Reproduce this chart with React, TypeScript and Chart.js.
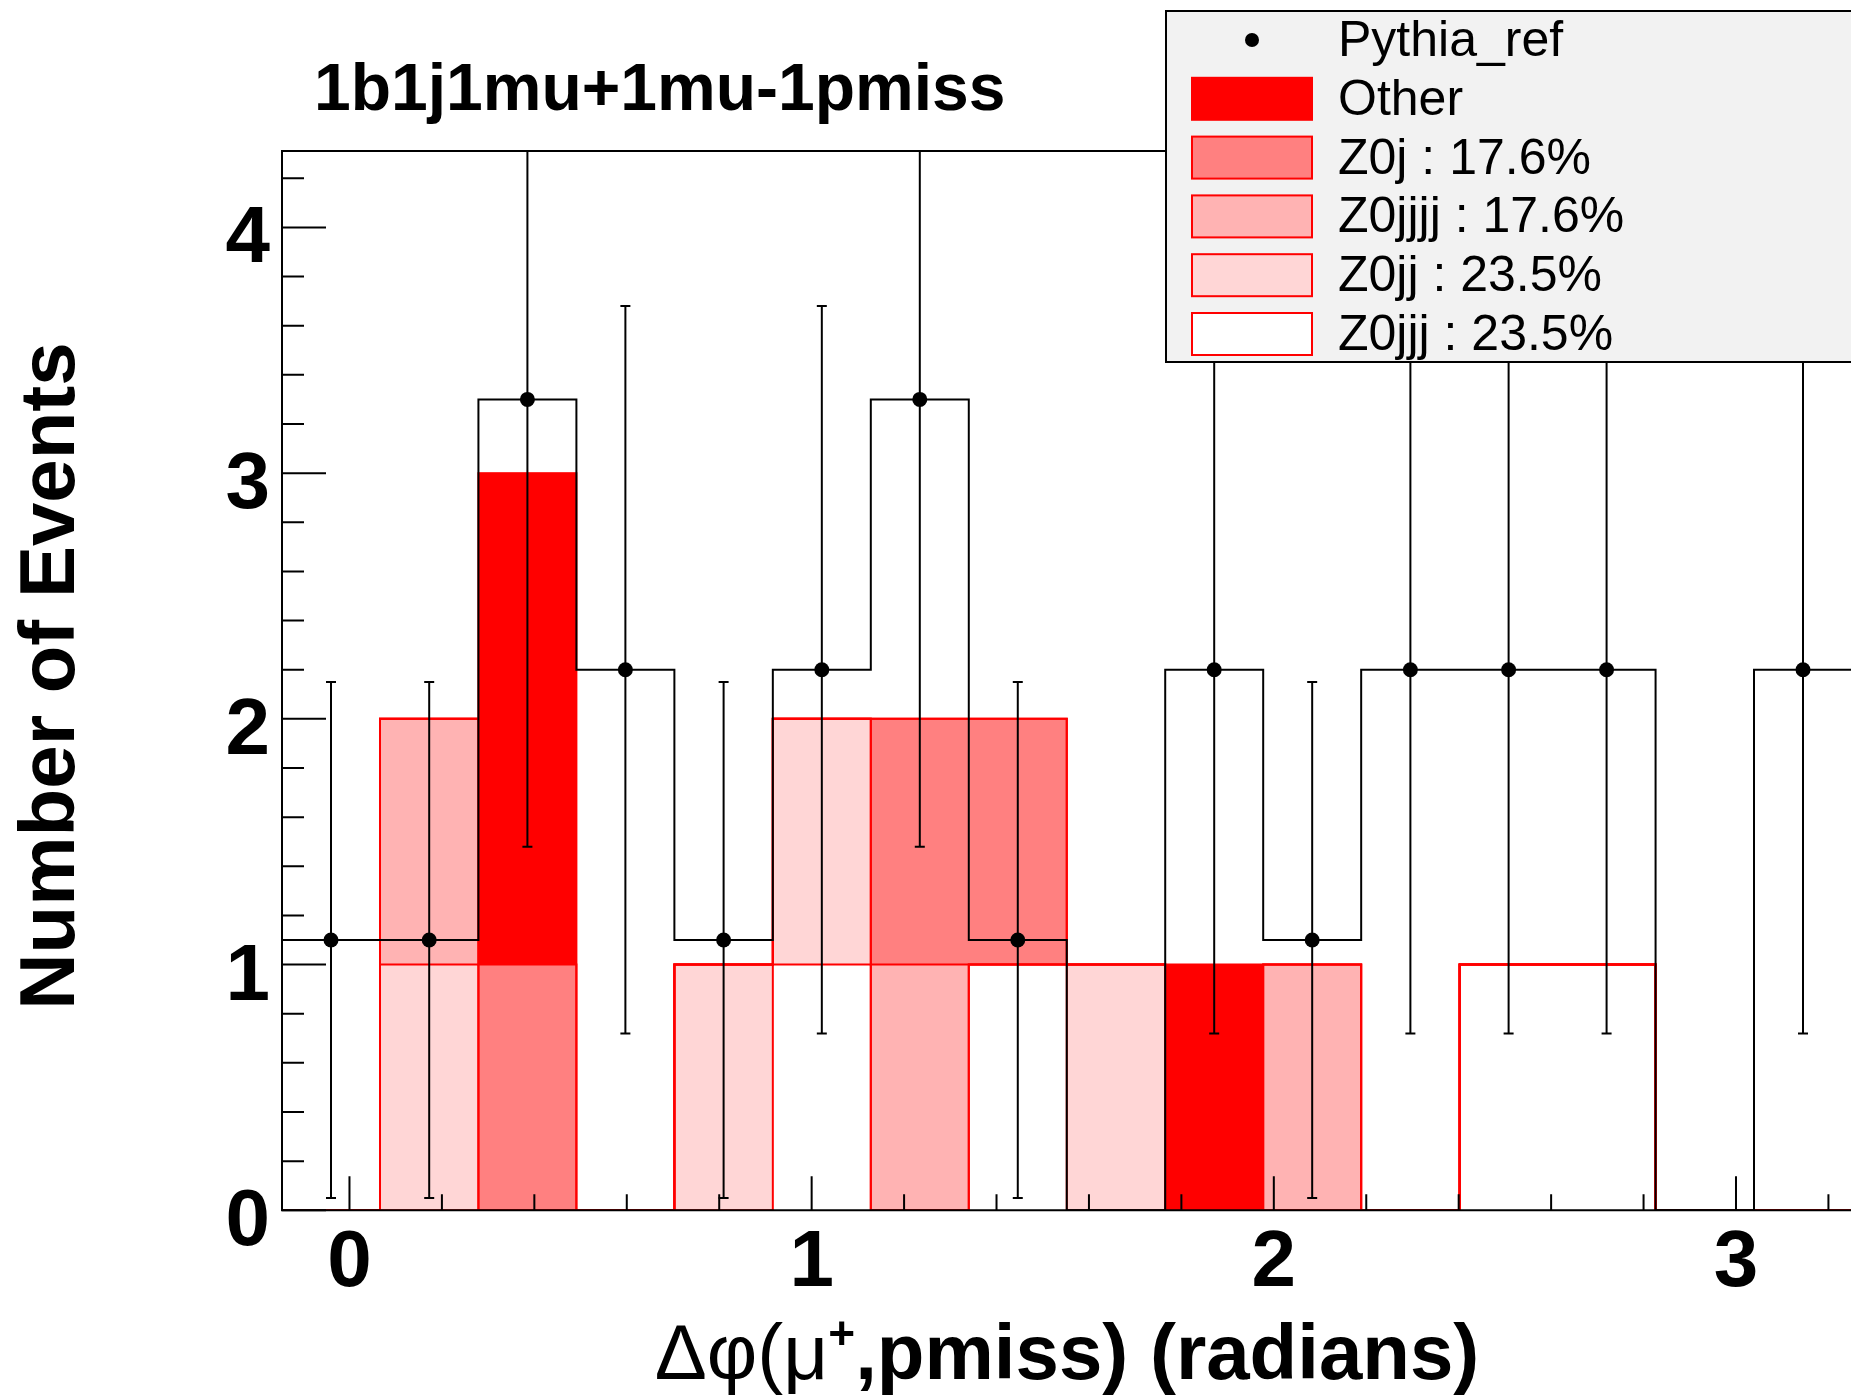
import React, { useEffect, useRef } from 'react';
import { Chart, registerables } from 'chart.js';

Chart.register(...registerables);

// ---------------- data ----------------
const binEdges = [-0.146, 0.066, 0.279, 0.491, 0.703, 0.916, 1.128, 1.34, 1.552, 1.765, 1.977, 2.189, 2.402, 2.614, 2.826, 3.039, 3.251];
const pythiaRef = [1.1, 1.1, 3.3, 2.2, 1.1, 2.2, 3.3, 1.1, 0, 2.2, 1.1, 2.2, 2.2, 2.2, 0, 2.2];
const pythiaErr = [1.05, 1.05, 1.82, 1.48, 1.05, 1.48, 1.82, 1.05, 0, 1.48, 1.05, 1.48, 1.48, 1.48, 0, 1.48];
// stack components, bottom to top
const z0jjj = [0, 0, 0, 0, 0, 1, 0, 1, 0, 0, 0, 0, 1, 1, 0, 0];
const z0jj = [0, 1, 0, 0, 1, 1, 0, 0, 1, 0, 0, 0, 0, 0, 0, 0];
const z0jjjj = [0, 1, 0, 0, 0, 0, 1, 0, 0, 0, 1, 0, 0, 0, 0, 0];
const z0j = [0, 0, 1, 0, 0, 0, 1, 1, 0, 0, 0, 0, 0, 0, 0, 0];
const other = [0, 0, 2, 0, 0, 0, 0, 0, 0, 1, 0, 0, 0, 0, 0, 0];

const stackNames = ['Z0jjj', 'Z0jj', 'Z0jjjj', 'Z0j', 'Other'];
const stackValues = [z0jjj, z0jj, z0jjjj, z0j, other];
const stackColors = ['#ffffff', '#ffd6d6', '#ffb3b3', '#ff8080', '#ff0000'];
const stackLegendLabels = ['Z0jjj : 23.5%', 'Z0jj : 23.5%', 'Z0jjjj : 17.6%', 'Z0j : 17.6%', 'Other'];
const refLabel = 'Pythia_ref';

const xTickValues = [0, 1, 2, 3];
const xTickLabels = ['0', '1', '2', '3'];
const yTickValues = [0, 1, 2, 3, 4];
const yTickLabels = ['0', '1', '2', '3', '4'];

const titleText = '1b1j1mu+1mu-1pmiss';
const yTitleText = 'Number of Events';
const xTitleParts = ['\u0394\u03c6(\u03bc', '+', ',pmiss) (radians)'];

const X_MIN = -0.146;
const X_MAX = 3.251;
const Y_MAX = 4.311;

// ---------------- styling ----------------
const FONT = '"Liberation Sans", Arial, Helvetica, sans-serif';
const RED = '#ff0000';

const centers = binEdges.slice(0, -1).map((e, i) => (e + binEdges[i + 1]) / 2);

function cumulative(k: number): number[] {
  return centers.map((_, i) => {
    let s = 0;
    for (let j = 0; j <= k; j++) s += stackValues[j][i];
    return s;
  });
}

function contourPoints(vals: number[]) {
  return binEdges.map((x, i) => ({ x, y: vals[Math.min(i, vals.length - 1)] }));
}

const rootPlugin = {
  id: 'rootDecor',
  beforeDatasetDraw(chart: any, args: any) {
    const ds = chart.data.datasets[args.index];
    if (ds.label !== refLabel) return;
    const ctx = chart.ctx;
    const xs = chart.scales.x;
    const ys = chart.scales.y;
    const area = chart.chartArea;
    ctx.save();
    ctx.beginPath();
    ctx.rect(area.left, area.top, area.right - area.left, area.bottom - area.top);
    ctx.clip();
    ctx.strokeStyle = '#000';
    ctx.lineWidth = 2;
    pythiaRef.forEach((v, i) => {
      if (v <= 0) return;
      const px = xs.getPixelForValue(centers[i]);
      const lo = ys.getPixelForValue(v - pythiaErr[i]);
      const hi = ys.getPixelForValue(v + pythiaErr[i]);
      ctx.beginPath();
      ctx.moveTo(px, lo);
      ctx.lineTo(px, hi);
      ctx.moveTo(px - 5, lo);
      ctx.lineTo(px + 5, lo);
      ctx.moveTo(px - 5, hi);
      ctx.lineTo(px + 5, hi);
      ctx.stroke();
    });
    ctx.restore();
  },
  afterDatasetsDraw(chart: any) {
    const ctx = chart.ctx;
    const xs = chart.scales.x;
    const ys = chart.scales.y;
    const a = chart.chartArea;
    ctx.save();
    ctx.strokeStyle = '#000';
    ctx.lineWidth = 2;
    // frame
    ctx.beginPath();
    ctx.moveTo(a.right + 2, a.top);
    ctx.lineTo(a.left, a.top);
    ctx.lineTo(a.left, a.bottom);
    ctx.lineTo(a.right + 2, a.bottom);
    ctx.stroke();
    // y ticks
    ctx.beginPath();
    for (let k = 0; k <= 21; k++) {
      const v = k * 0.2;
      if (v > Y_MAX) break;
      const py = ys.getPixelForValue(v);
      const len = k % 5 === 0 ? 44 : 22;
      ctx.moveTo(a.left, py);
      ctx.lineTo(a.left + len, py);
    }
    // x ticks
    for (let k = 0; k <= 16; k++) {
      const v = k * 0.2;
      if (v > X_MAX) break;
      const px = xs.getPixelForValue(v);
      const len = k % 5 === 0 ? 34 : 16;
      ctx.moveTo(px, a.bottom);
      ctx.lineTo(px, a.bottom - len);
    }
    ctx.stroke();
    ctx.restore();
  },
  afterDraw(chart: any) {
    const ctx = chart.ctx;
    const xs = chart.scales.x;
    const ys = chart.scales.y;
    const a = chart.chartArea;
    ctx.save();
    ctx.fillStyle = '#000';
    // tick labels
    ctx.font = `bold 80px ${FONT}`;
    ctx.textBaseline = 'alphabetic';
    ctx.textAlign = 'right';
    yTickValues.forEach((v, i) => {
      ctx.fillText(yTickLabels[i], a.left - 12, ys.getPixelForValue(v) + 35);
    });
    ctx.textAlign = 'center';
    xTickValues.forEach((v, i) => {
      ctx.fillText(xTickLabels[i], xs.getPixelForValue(v), a.bottom + 76);
    });
    // title
    ctx.textAlign = 'left';
    ctx.font = `bold 66px ${FONT}`;
    ctx.fillText(titleText, 314, 110);
    // y title
    ctx.save();
    ctx.translate(74, 676);
    ctx.rotate(-Math.PI / 2);
    ctx.textAlign = 'center';
    ctx.font = `bold 78px ${FONT}`;
    ctx.fillText(yTitleText, 0, 0);
    ctx.restore();
    // x title
    const fonts = [`78px ${FONT}`, `bold 46px ${FONT}`, `bold 78px ${FONT}`];
    const dys = [0, -30, 0];
    let total = 0;
    const widths = xTitleParts.map((t, i) => {
      ctx.font = fonts[i];
      const w = ctx.measureText(t).width;
      total += w;
      return w;
    });
    let x0 = 1067 - total / 2;
    ctx.textAlign = 'left';
    xTitleParts.forEach((t, i) => {
      ctx.font = fonts[i];
      ctx.fillText(t, x0, 1379 + dys[i]);
      x0 += widths[i];
    });
    // legend
    const L = 1166, T = 11, B = 362;
    ctx.fillStyle = '#f2f2f2';
    ctx.fillRect(L, T, 800, B - T);
    ctx.strokeStyle = '#000';
    ctx.lineWidth = 2;
    ctx.strokeRect(L, T, 800, B - T);
    const rowH = 58.8;
    const entries = [{ label: refLabel, color: null as string | null }];
    for (let k = stackNames.length - 1; k >= 0; k--) {
      entries.push({ label: stackLegendLabels[k], color: stackColors[k] });
    }
    ctx.font = `50px ${FONT}`;
    entries.forEach((e, i) => {
      const cy = 40 + rowH * i;
      if (e.color === null) {
        ctx.fillStyle = '#000';
        ctx.beginPath();
        ctx.arc(1252, cy, 7, 0, Math.PI * 2);
        ctx.fill();
      } else {
        ctx.fillStyle = e.color;
        ctx.fillRect(1192, cy - 21, 120, 42);
        ctx.strokeStyle = RED;
        ctx.lineWidth = 2;
        ctx.strokeRect(1192, cy - 21, 120, 42);
      }
      ctx.fillStyle = '#000';
      ctx.fillText(e.label, 1338, cy + 16);
    });
    ctx.restore();
  },
};

export default function App() {
  const ref = useRef<HTMLCanvasElement>(null);
  useEffect(() => {
    const canvas = ref.current;
    if (!canvas) return;
    const datasets: any[] = [];
    // points (top)
    datasets.push({
      type: 'scatter',
      label: refLabel,
      data: pythiaRef.map((v, i) => (v > 0 ? { x: centers[i], y: v } : null)).filter((p) => p !== null),
      pointRadius: 7.5,
      pointBackgroundColor: '#000',
      pointBorderWidth: 0,
      showLine: false,
      stack: 'pts',
      order: 0,
    });
    // reference histogram line
    datasets.push({
      type: 'line',
      label: 'refHist',
      data: contourPoints(pythiaRef),
      stepped: true,
      borderColor: '#000',
      borderWidth: 2,
      pointRadius: 0,
      fill: false,
      stack: 'refHist',
      order: 1,
    });
    // contours of cumulative stack
    for (let k = stackNames.length - 1; k >= 0; k--) {
      datasets.push({
        type: 'line',
        label: 'contour' + k,
        data: contourPoints(cumulative(k)),
        stepped: true,
        borderColor: RED,
        borderWidth: 2,
        pointRadius: 0,
        fill: false,
        stack: 'contour' + k,
        order: 2,
      });
    }
    // stacked fills
    stackNames.forEach((name, k) => {
      datasets.push({
        type: 'bar',
        label: name,
        data: stackValues[k].map((v, i) => ({ x: centers[i], y: v > 0 ? v : null })),
        backgroundColor: stackColors[k],
        borderWidth: 0,
        barPercentage: 1,
        categoryPercentage: 1,
        stack: 'mc',
        order: 3,
      });
    });

    const chart = new Chart(canvas, {
      type: 'bar',
      data: { datasets },
      plugins: [rootPlugin],
      options: {
        responsive: false,
        devicePixelRatio: 1,
        animation: false,
        events: [],
        layout: { autoPadding: false, padding: { left: 282, top: 151, right: 1, bottom: 186.7 } },
        plugins: {
          legend: { display: false },
          tooltip: { enabled: false },
          title: { display: false },
        },
        scales: {
          x: {
            type: 'linear',
            min: X_MIN,
            max: X_MAX,
            offset: false,
            display: false,
            stacked: true,
            grid: { offset: false },
            ticks: { stepSize: 1, includeBounds: false },
          },
          y: {
            type: 'linear',
            min: 0,
            max: Y_MAX,
            display: false,
            stacked: true,
          },
        },
      } as any,
    } as any);
    return () => chart.destroy();
  }, []);
  return (
    <div style={{ position: 'fixed', left: 0, top: 0, width: 1851, height: 1397, overflow: 'hidden', background: '#fff' }}>
      <canvas ref={ref} width={1853} height={1397} style={{ display: 'block', width: 1853, height: 1397 }} />
    </div>
  );
}
